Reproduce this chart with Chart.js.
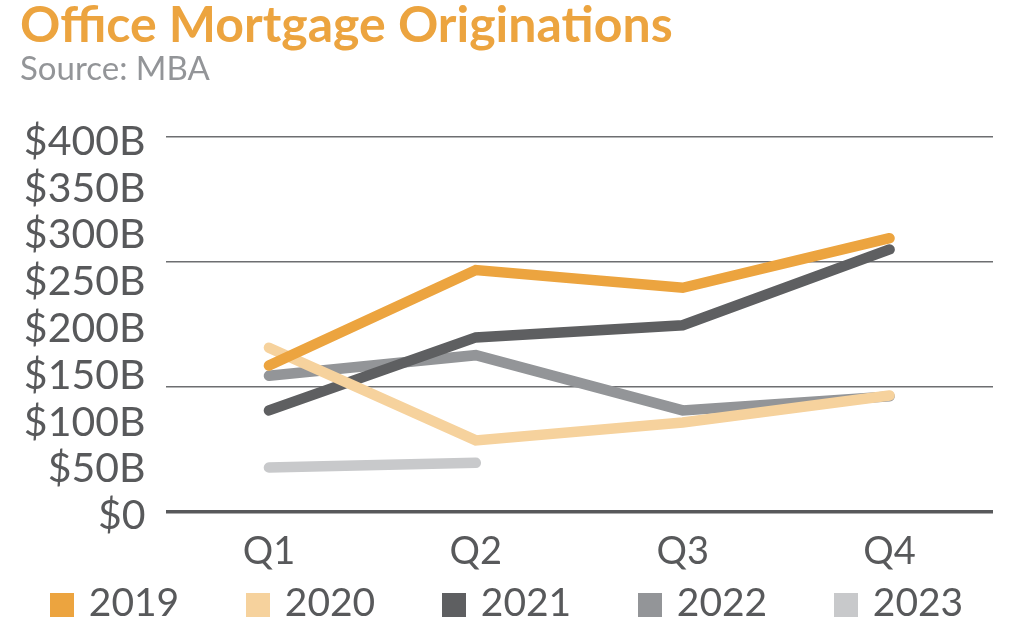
<!DOCTYPE html>
<html><head><meta charset="utf-8">
<script src="https://cdn.jsdelivr.net/npm/chart.js@4.4.1/dist/chart.umd.min.js"></script>
<style>html,body{margin:0;padding:0;background:#fff;}#wrap{width:1013px;height:619px;}</style>
</head><body><div id="wrap"><canvas id="c" width="1013" height="619"></canvas></div>
<script>
const categories = ['Q1', 'Q2', 'Q3', 'Q4'];
const seriesNames = ['2019', '2020', '2021', '2022', '2023'];
const s2019 = [156, 258, 239, 292];
const s2020 = [175, 76, 95, 124];
const s2021 = [108, 186, 199, 280];
const s2022 = [145, 167, 108, 123];
const s2023 = [47, 52, null, null];
const yTickValues = [0, 50, 100, 150, 200, 250, 300, 350, 400];
const gridValues = [0, 400 / 3, 800 / 3, 400];
const seriesColors = ['#ECA43F', '#F6D29D', '#5E5F61', '#939598', '#C8C9CB'];
const seriesData = [s2019, s2020, s2021, s2022, s2023];

const TEXT = '#58595B';
const FONT = 'Lato';

const legendPlugin = {
  id: 'bottomLegend',
  afterDraw(chart) {
    const ctx = chart.ctx;
    const ds = chart.data.datasets;
    ctx.save();
    ctx.font = '39px ' + FONT;
    ctx.textBaseline = 'middle';
    ctx.textAlign = 'left';
    const box = 24, gap = 15, step = 196;
    const lastW = box + gap + ctx.measureText(ds[ds.length - 1].label).width;
    const total = step * (ds.length - 1) + lastW;
    let x = (chart.width - total) / 2;
    const cy = 603;
    ds.forEach(d => {
      ctx.fillStyle = d.backgroundColor;
      ctx.fillRect(Math.round(x), 593, box, box);
      ctx.fillStyle = TEXT;
      ctx.fillText(d.label, x + box + gap, cy);
      x += step;
    });
    ctx.restore();
  }
};

new Chart(document.getElementById('c'), {
  type: 'line',
  data: {
    labels: categories,
    datasets: seriesNames.map((name, i) => ({
      label: name,
      data: seriesData[i],
      borderColor: seriesColors[i],
      backgroundColor: seriesColors[i],
      borderWidth: 10.5,
      borderCapStyle: 'round',
      borderJoinStyle: 'miter',
      pointRadius: 0,
      pointHoverRadius: 0,
      tension: 0,
      fill: false,
      yAxisID: 'y'
    }))
  },
  options: {
    responsive: false,
    animation: false,
    devicePixelRatio: 1,
    events: [],
    layout: { padding: { left: 20, right: 20, top: 0, bottom: 0 } },
    plugins: {
      legend: { display: false },
      tooltip: { enabled: false },
      title: {
        display: true,
        text: 'Office Mortgage Originations',
        align: 'start',
        color: '#ECA43F',
        font: { family: FONT, size: 50, weight: 'bold', lineHeight: 1.2 },
        padding: { top: -4, bottom: 0 }
      },
      subtitle: {
        display: true,
        text: 'Source: MBA',
        align: 'start',
        color: '#939598',
        font: { family: FONT, size: 33, weight: 'normal', lineHeight: 1.2 },
        padding: { top: -6, bottom: 47.5 }
      }
    },
    scales: {
      x: {
        type: 'category',
        offset: true,
        grid: { display: false, drawTicks: false },
        border: { display: false },
        ticks: { color: TEXT, font: { family: FONT, size: 38 }, padding: 17, maxRotation: 0 },
        afterFit: s => { s.height = 107.5; }
      },
      y: {
        type: 'linear',
        position: 'left',
        min: 0,
        max: 400,
        afterBuildTicks: s => { s.ticks = gridValues.map(v => ({ value: v })); },
        ticks: { display: false },
        grid: {
          drawTicks: false,
          color: c => (c.tick && c.tick.value === 0) ? '#58595B' : '#6D6E71',
          lineWidth: c => (c.tick && c.tick.value === 0) ? 3.5 : 1.5
        },
        border: { display: false },
        afterFit: s => { s.width = 0; }
      },
      yl: {
        type: 'linear',
        position: 'left',
        min: 4.8,
        max: 404.8,
        afterBuildTicks: s => { s.ticks = yTickValues.map(v => ({ value: v })); },
        ticks: {
          autoSkip: false,
          color: TEXT,
          font: { family: FONT, size: 41 },
          padding: 20,
          callback: v => v === 0 ? '$0' : '$' + v + 'B'
        },
        grid: { display: false, drawTicks: false },
        border: { display: false },
        afterFit: s => { s.width = 145.5; }
      }
    }
  },
  plugins: [legendPlugin]
});
</script>
</body></html>
